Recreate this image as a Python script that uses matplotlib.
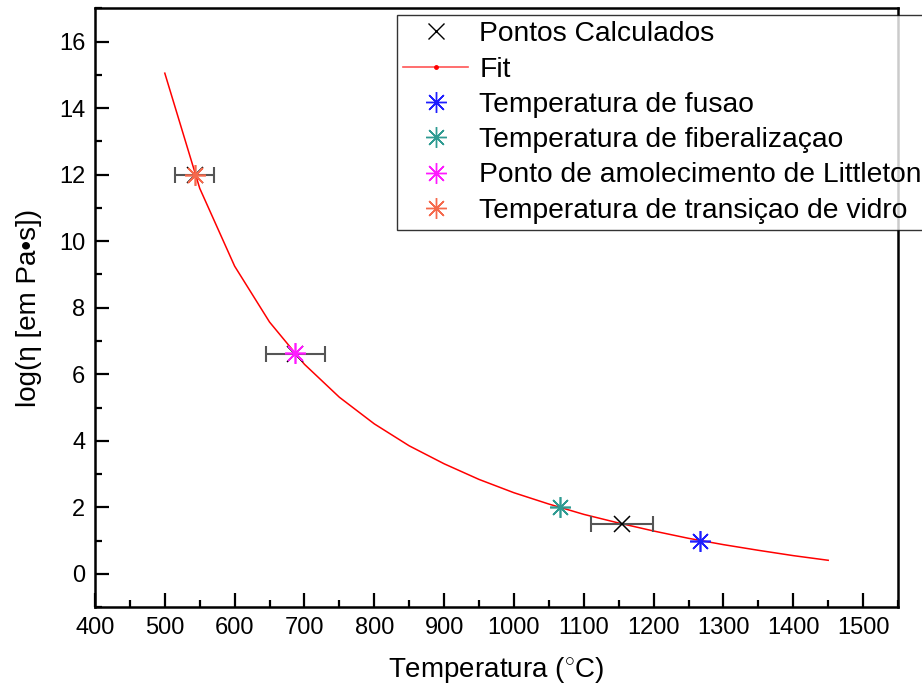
import matplotlib
matplotlib.use('Agg')
import matplotlib.pyplot as plt
from matplotlib.lines import Line2D
from matplotlib.ticker import MultipleLocator

plt.rcParams['font.family'] = ['Liberation Sans', 'DejaVu Sans']
plt.rcParams['mathtext.fontset'] = 'custom'
plt.rcParams['mathtext.rm'] = 'Liberation Sans'

# --- data ---
fit_T = [500, 550, 600, 650, 700, 750, 800, 850, 900, 950, 1000,
         1050, 1100, 1150, 1200, 1250, 1300, 1350, 1400, 1450]
fit_log = [15.05, 11.59, 9.25, 7.57, 6.30, 5.31, 4.51, 3.85, 3.31, 2.84, 2.44,
           2.10, 1.79, 1.53, 1.29, 1.07, 0.88, 0.71, 0.55, 0.41]

calc_T = [543, 687, 1155]
calc_log = [12.0, 6.6, 1.5]
calc_err = [28, 42, 44]

fusao = (1267, 1.0)
fiber = (1066, 2.0)
littleton = (686, 6.63)
vidro = (543, 12.0)

labels = ['Pontos Calculados', 'Fit', 'Temperatura de fusao',
          'Temperatura de fiberalizaçao', 'Ponto de amolecimento de Littleton',
          'Temperatura de transiçao de vidro']
colors = ['black', 'red', '#1f1fff', '#2f9b92', '#ff1aff', '#f5694c']

star = (8, 2, 0)

fig = plt.figure(figsize=(9.22, 6.9), dpi=100)
ax = fig.add_axes([0.103, 0.120, 0.871, 0.868])

ax.plot(fit_T, fit_log, color='red', lw=1.1, zorder=2)
ax.errorbar(calc_T, calc_log, xerr=calc_err, fmt='none', ecolor='#555555',
            elinewidth=1.5, capsize=6, capthick=1.5, zorder=3)
ax.plot(calc_T, calc_log, ls='none', marker='x', ms=12, mew=1.1, color='black', zorder=4)

pts = [fusao, fiber, littleton, vidro]
for (t, v), c in zip(pts, colors[2:]):
    ax.plot([t], [v], ls='none', marker=star, ms=15, mew=1.2, color=c, zorder=5)

ax.set_xlim(400, 1550)
ax.set_ylim(-1, 17)
ax.xaxis.set_major_locator(MultipleLocator(100))
ax.xaxis.set_minor_locator(MultipleLocator(50))
ax.yaxis.set_major_locator(MultipleLocator(2))
ax.yaxis.set_minor_locator(MultipleLocator(1))
ax.set_xticks([t for t in range(400, 1501, 100)])
ax.tick_params(which='both', direction='in', top=False, right=False, width=1.6)
ax.tick_params(which='major', length=10, labelsize=17, pad=7)
ax.tick_params(which='minor', length=5)
for s in ax.spines.values():
    s.set_linewidth(1.8)

ax.set_xlabel('Temperatura ($^{\\circ}$C)', fontsize=20, labelpad=12)
ax.set_ylabel('log(η [em Pa•s])', fontsize=20, labelpad=12)

# legend: x marker, fit line with dot, four asterisks
handles = [
    Line2D([], [], ls='none', marker='x', ms=12, mew=1.0, color='black'),
    Line2D([], [], color='#ff5555', lw=1.2, marker='.', ms=5, mfc='red', mec='red'),
]
for c in colors[2:]:
    handles.append(Line2D([], [], ls='none', marker=star, ms=15, mew=1.0, color=c))

leg = fig.legend(handles, labels, loc='upper left', bbox_to_anchor=(397 / 922, 1 - 15 / 690),
                 fontsize=20.3, frameon=True, fancybox=False, edgecolor='black',
                 borderaxespad=0, borderpad=0.22, labelspacing=0.33, handlelength=2.3,
                 handletextpad=0.4)
leg.get_frame().set_linewidth(1.0)
leg.set_zorder(10)

fig.savefig('out.png', dpi=100)
